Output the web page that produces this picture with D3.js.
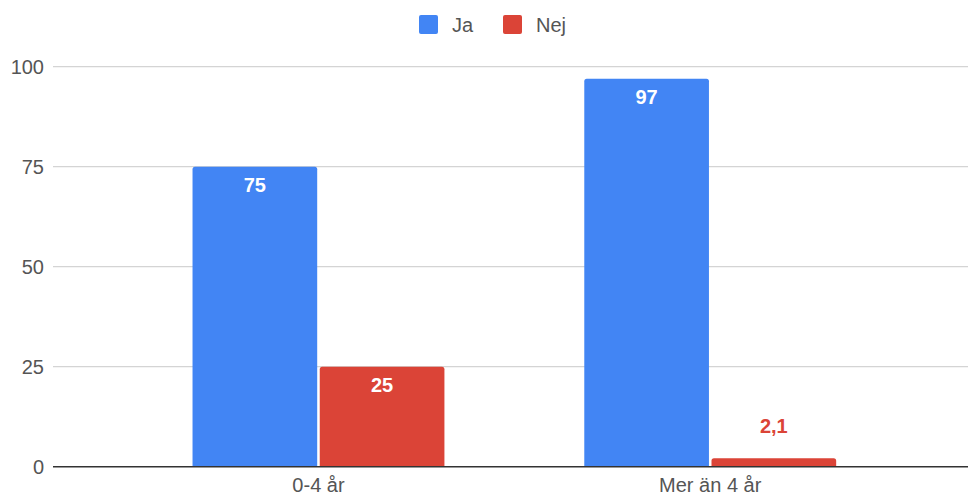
<!DOCTYPE html>
<html><head><meta charset="utf-8">
<script src="https://cdn.jsdelivr.net/npm/d3@7"></script>
<style>html,body{margin:0;padding:0;background:#fff;}svg{display:block;font-family:"Liberation Sans",Arial,sans-serif;}</style>
</head><body>
<svg id="c" width="968" height="495"></svg>
<script>
const categories = ["0-4 år", "Mer än 4 år"];
const seriesNames = ["Ja", "Nej"];
const jaValues = [75, 97];
const nejValues = [25, 2.1];
const valueLabels = [["75", "25"], ["97", "2,1"]];
const yTicks = [0, 25, 50, 75, 100];
const colors = ["#4285f4", "#db4437"];

const svg = d3.select("#c");
const y = d3.scaleLinear().domain([0, 100]).range([466.7, 66.7]);
const x0 = d3.scaleBand().domain(categories).range([122.6, 906.1]).paddingInner(0.357).paddingOuter(0.1785);
const x1 = d3.scaleBand().domain(seriesNames).range([0, x0.bandwidth()]).paddingInner(0.02);

// gridlines
svg.append("g").selectAll("line").data(yTicks.filter(d => d !== 0)).join("line")
  .attr("x1", 53).attr("x2", 968).attr("y1", d => y(d)).attr("y2", d => y(d))
  .attr("stroke", "#d4d4d4").attr("stroke-width", 1.2);

// y tick labels
svg.append("g").selectAll("text").data(yTicks).join("text")
  .attr("x", 44).attr("y", d => y(d) + 7).attr("text-anchor", "end")
  .attr("font-size", 20).attr("fill", "#555").text(d => d);

const data = categories.map((c, i) => ({cat: c, vals: [jaValues[i], nejValues[i]], labels: valueLabels[i]}));

function topRounded(x, yTop, w, h, r) {
  r = Math.min(r, h, w / 2);
  return `M${x},${yTop + h}V${yTop + r}Q${x},${yTop} ${x + r},${yTop}H${x + w - r}Q${x + w},${yTop} ${x + w},${yTop + r}V${yTop + h}Z`;
}

const groups = svg.append("g").selectAll("g").data(data).join("g")
  .attr("transform", d => `translate(${x0(d.cat)},0)`);

groups.selectAll("path").data(d => d.vals.map((v, j) => ({v, j, s: seriesNames[j]}))).join("path")
  .attr("d", d => topRounded(x1(d.s), y(d.v), x1.bandwidth(), y(0) - y(d.v), 2.5))
  .attr("fill", d => colors[d.j]);

groups.selectAll("text").data(d => d.vals.map((v, j) => ({v, j, s: seriesNames[j], label: d.labels[j]}))).join("text")
  .attr("x", d => x1(d.s) + x1.bandwidth() / 2)
  .attr("y", d => (y(0) - y(d.v) > 40) ? y(d.v) + 25.5 : y(d.v) - 25)
  .attr("text-anchor", "middle").attr("font-size", 20).attr("font-weight", "bold")
  .attr("fill", d => (y(0) - y(d.v) > 40) ? "#fff" : colors[d.j])
  .text(d => d.label);

// baseline
svg.append("line").attr("x1", 53).attr("x2", 968).attr("y1", y(0)).attr("y2", y(0))
  .attr("stroke", "#333").attr("stroke-width", 1.5);

// category labels
svg.append("g").selectAll("text").data(categories).join("text")
  .attr("x", d => x0(d) + x0.bandwidth() / 2).attr("y", 492)
  .attr("text-anchor", "middle").attr("font-size", 20).attr("fill", "#555").text(d => d);

// legend
const legendX = [419, 503];
const lg = svg.append("g").selectAll("g").data(seriesNames).join("g")
  .attr("transform", (d, i) => `translate(${legendX[i]},15)`);
lg.append("rect").attr("width", 19).attr("height", 19).attr("rx", 2).attr("fill", (d, i) => colors[i]);
lg.append("text").attr("x", 33).attr("y", 16.5).attr("font-size", 20).attr("fill", "#555").text(d => d);
</script>
</body></html>
